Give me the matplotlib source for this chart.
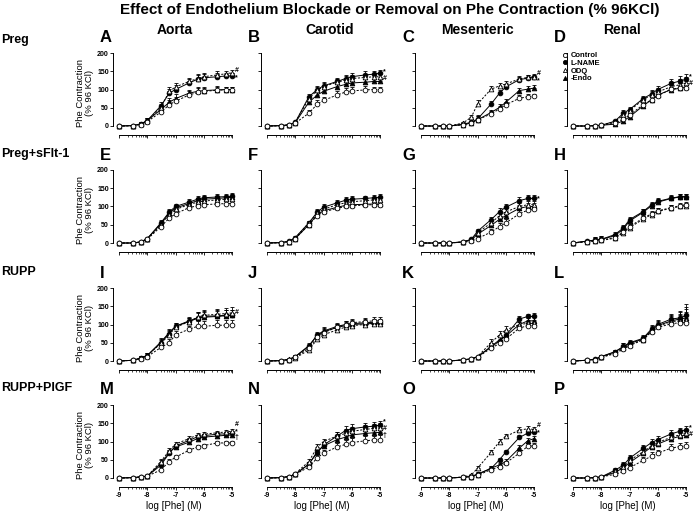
import matplotlib
matplotlib.use("Agg")
import matplotlib.pyplot as plt
from matplotlib.lines import Line2D
import numpy as np

plt.rcParams['font.family'] = ['Liberation Sans', 'DejaVu Sans']
plt.rcParams['font.weight'] = 'bold'

log_phe = [-9, -8.52, -8.22, -8, -7.52, -7.22, -7, -6.52, -6.22, -6, -5.52, -5.22, -5]
x_ticks = [-9, -8, -7, -6, -5]
y_ticks = [0, 50, 100, 150, 200]

vessels = ["Aorta", "Carotid", "Mesenteric", "Renal"]
groups = ["Preg", "Preg+sFlt-1", "RUPP", "RUPP+PIGF"]
letters = "ABCDEFGHIJKLMNOP"
series_names = ["Control", "L-NAME", "ODQ", "-Endo"]

# Preg
a_ctrl = [0, 1, 4, 12, 38, 58, 68, 85, 92, 95, 98, 99, 99]
a_lname = [0, 1, 6, 15, 55, 90, 100, 118, 128, 132, 135, 137, 137]
a_odq = [0, 1, 5, 14, 50, 95, 107, 122, 130, 135, 140, 143, 146]
a_endo = [0, 1, 5, 15, 45, 65, 75, 90, 95, 97, 99, 100, 100]
a_sem = [1, 1, 5, 8, 10, 12, 12, 10, 12, 10, 10, 8, 8]

b_ctrl = [0, 1, 3, 8, 35, 60, 70, 85, 93, 96, 99, 100, 100]
b_lname = [0, 1, 3, 10, 80, 100, 110, 122, 130, 135, 140, 142, 145]
b_odq = [0, 1, 3, 10, 75, 98, 108, 120, 126, 130, 133, 135, 135]
b_endo = [0, 1, 3, 9, 65, 85, 95, 108, 114, 118, 120, 122, 122]
b_sem = [1, 1, 2, 4, 8, 10, 10, 10, 10, 10, 10, 8, 8]

c_ctrl = [0, 0, 0, 0, 3, 8, 17, 33, 47, 58, 76, 80, 81]
c_lname = [0, 0, 0, 0, 5, 10, 19, 60, 90, 107, 127, 131, 133]
c_odq = [0, 0, 0, 0, 8, 24, 60, 101, 110, 115, 129, 133, 135]
c_endo = [0, 0, 0, 0, 4, 8, 17, 37, 51, 65, 97, 101, 104]
c_sem = [1, 1, 1, 1, 3, 5, 10, 8, 8, 8, 8, 8, 8]

d_ctrl = [0, 0, 1, 2, 8, 19, 30, 58, 72, 83, 101, 104, 104]
d_lname = [0, 0, 1, 2, 13, 35, 45, 75, 88, 100, 117, 123, 128]
d_odq = [0, 0, 1, 2, 12, 30, 42, 72, 85, 93, 108, 113, 118]
d_endo = [0, 0, 1, 2, 5, 14, 25, 55, 72, 85, 100, 103, 108]
d_sem = [1, 1, 1, 2, 4, 8, 8, 8, 10, 10, 12, 15, 15]

# Preg+sFlt-1
e_ctrl = [0, 0, 2, 10, 45, 68, 80, 97, 102, 105, 107, 108, 108]
e_lname = [0, 0, 3, 12, 55, 85, 100, 112, 120, 124, 126, 127, 128]
e_odq = [0, 0, 3, 11, 50, 78, 92, 105, 112, 115, 118, 120, 120]
e_endo = [0, 0, 3, 12, 52, 82, 96, 108, 116, 120, 122, 124, 125]
e_sem = [1, 1, 2, 3, 8, 8, 8, 8, 8, 8, 8, 8, 8]

f_ctrl = [0, 1, 4, 12, 50, 75, 85, 95, 100, 102, 104, 105, 105]
f_lname = [0, 1, 5, 15, 55, 85, 98, 110, 117, 120, 122, 124, 125]
f_odq = [0, 1, 4, 13, 55, 82, 92, 105, 110, 113, 116, 118, 118]
f_endo = [0, 1, 4, 12, 50, 78, 88, 98, 103, 105, 106, 107, 107]
f_sem = [1, 1, 2, 3, 6, 8, 8, 8, 10, 10, 8, 8, 8]

g_ctrl = [0, 0, 0, 0, 2, 5, 12, 30, 45, 55, 80, 90, 92]
g_lname = [0, 0, 0, 0, 3, 10, 32, 64, 86, 98, 116, 122, 122]
g_odq = [0, 0, 0, 0, 3, 9, 28, 55, 75, 85, 100, 105, 105]
g_endo = [0, 0, 0, 0, 3, 8, 24, 48, 65, 75, 95, 100, 100]
g_sem = [1, 1, 1, 1, 2, 3, 6, 8, 10, 10, 10, 10, 10]

h_ctrl = [0, 4, 5, 8, 15, 30, 45, 68, 80, 88, 97, 102, 105]
h_lname = [0, 5, 8, 10, 23, 41, 64, 86, 105, 114, 123, 127, 127]
h_odq = [0, 3, 5, 7, 13, 28, 42, 65, 78, 87, 95, 100, 102]
h_endo = [0, 5, 8, 10, 20, 38, 60, 84, 102, 112, 122, 126, 127]
h_sem = [1, 3, 8, 8, 6, 8, 8, 8, 8, 8, 8, 8, 8]

# RUPP
i_ctrl = [0, 2, 6, 12, 37, 50, 72, 87, 95, 95, 98, 98, 98]
i_lname = [0, 2, 8, 15, 50, 75, 95, 110, 118, 122, 124, 125, 126]
i_odq = [0, 2, 8, 15, 48, 72, 92, 108, 120, 125, 128, 130, 132]
i_endo = [0, 2, 8, 15, 52, 78, 95, 108, 117, 120, 122, 124, 125]
i_sem = [1, 1, 5, 8, 10, 10, 10, 10, 15, 15, 15, 15, 15]

j_ctrl = [0, 1, 4, 10, 35, 65, 78, 92, 100, 105, 108, 110, 110]
j_lname = [0, 1, 4, 12, 42, 70, 80, 92, 97, 100, 102, 103, 103]
j_odq = [0, 1, 3, 8, 30, 60, 72, 85, 93, 97, 100, 102, 102]
j_endo = [0, 1, 5, 12, 40, 72, 82, 95, 100, 102, 105, 106, 106]
j_sem = [1, 1, 2, 4, 6, 8, 10, 10, 10, 10, 10, 10, 10]

k_ctrl = [0, 0, 0, 0, 3, 5, 10, 35, 48, 60, 90, 97, 97]
k_lname = [0, 0, 0, 0, 3, 6, 12, 38, 55, 70, 115, 122, 122]
k_odq = [0, 0, 0, 0, 3, 6, 12, 50, 72, 85, 100, 103, 103]
k_endo = [0, 0, 0, 0, 3, 6, 11, 40, 58, 68, 100, 110, 110]
k_sem = [1, 1, 1, 1, 1, 2, 3, 10, 10, 12, 8, 8, 10]

l_ctrl = [0, 2, 4, 10, 20, 32, 42, 58, 80, 92, 102, 105, 105]
l_lname = [0, 2, 5, 12, 25, 40, 50, 62, 88, 100, 115, 118, 125]
l_odq = [0, 2, 4, 10, 22, 35, 45, 58, 82, 95, 108, 110, 112]
l_endo = [0, 2, 5, 12, 25, 38, 48, 60, 85, 97, 110, 115, 118]
l_sem = [1, 2, 2, 4, 5, 10, 8, 8, 10, 12, 15, 20, 30]

# RUPP+PlGF
m_ctrl = [0, 1, 3, 5, 22, 45, 57, 76, 85, 89, 96, 96, 96]
m_lname = [0, 1, 3, 5, 35, 68, 88, 103, 113, 116, 120, 121, 122]
m_odq = [0, 1, 3, 5, 45, 75, 93, 108, 118, 120, 124, 126, 128]
m_endo = [0, 1, 3, 5, 40, 70, 85, 98, 108, 112, 115, 117, 118]
m_sem = [1, 1, 1, 2, 8, 8, 6, 6, 5, 5, 5, 5, 5]

n_ctrl = [0, 1, 4, 10, 30, 55, 68, 85, 92, 97, 102, 104, 105]
n_lname = [0, 1, 4, 10, 38, 70, 90, 115, 130, 135, 140, 142, 145]
n_odq = [0, 1, 4, 12, 45, 85, 100, 115, 122, 128, 133, 136, 138]
n_endo = [0, 1, 4, 10, 38, 72, 88, 105, 112, 118, 122, 124, 125]
n_sem = [1, 1, 2, 3, 6, 8, 8, 10, 12, 12, 12, 12, 12]

o_ctrl = [0, 0, 0, 0, 2, 4, 7, 23, 31, 41, 68, 87, 88]
o_lname = [0, 0, 0, 0, 2, 4, 11, 26, 50, 71, 111, 123, 125]
o_odq = [0, 0, 0, 0, 3, 8, 27, 70, 100, 114, 131, 135, 133]
o_endo = [0, 0, 0, 0, 2, 4, 9, 27, 36, 45, 82, 102, 108]
o_sem = [1, 1, 1, 1, 2, 3, 5, 6, 6, 6, 8, 8, 8]

p_ctrl = [0, 0, 1, 3, 10, 18, 28, 48, 60, 68, 82, 86, 88]
p_lname = [0, 0, 1, 3, 21, 35, 54, 81, 97, 105, 121, 128, 132]
p_odq = [0, 0, 1, 3, 18, 30, 48, 72, 88, 97, 112, 118, 122]
p_endo = [0, 0, 1, 3, 15, 28, 42, 68, 85, 93, 108, 114, 118]
p_sem = [1, 1, 1, 2, 6, 10, 10, 10, 10, 10, 10, 10, 10]

panels = {
    "A": (a_ctrl, a_lname, a_odq, a_endo, a_sem),
    "B": (b_ctrl, b_lname, b_odq, b_endo, b_sem),
    "C": (c_ctrl, c_lname, c_odq, c_endo, c_sem),
    "D": (d_ctrl, d_lname, d_odq, d_endo, d_sem),
    "E": (e_ctrl, e_lname, e_odq, e_endo, e_sem),
    "F": (f_ctrl, f_lname, f_odq, f_endo, f_sem),
    "G": (g_ctrl, g_lname, g_odq, g_endo, g_sem),
    "H": (h_ctrl, h_lname, h_odq, h_endo, h_sem),
    "I": (i_ctrl, i_lname, i_odq, i_endo, i_sem),
    "J": (j_ctrl, j_lname, j_odq, j_endo, j_sem),
    "K": (k_ctrl, k_lname, k_odq, k_endo, k_sem),
    "L": (l_ctrl, l_lname, l_odq, l_endo, l_sem),
    "M": (m_ctrl, m_lname, m_odq, m_endo, m_sem),
    "N": (n_ctrl, n_lname, n_odq, n_endo, n_sem),
    "O": (o_ctrl, o_lname, o_odq, o_endo, o_sem),
    "P": (p_ctrl, p_lname, p_odq, p_endo, p_sem),
}

# significance marks next to the last dose
marks = {
    "A": [("#", 151), ("*", 133)],
    "B": [("*", 149), ("#", 131)],
    "C": [("#", 143), ("*", 125)],
    "D": [("*", 134), ("#", 116)],
    "G": [("*", 122)],
    "I": [("#", 133)],
    "M": [("#", 146), ("*", 128), ("†", 110)],
    "N": [("*", 153), ("#", 135), ("†", 117)],
    "O": [("#", 143), ("*", 125)],
    "P": [("*", 137), ("#", 119)],
}

dash = (0, (2.2, 1.6))
styles = [
    dict(marker='o', mfc='white', ls=dash),
    dict(marker='o', mfc='black', ls='-'),
    dict(marker='^', mfc='white', ls=dash),
    dict(marker='^', mfc='black', ls='-'),
]

W, H = 694, 514
fig = plt.figure(figsize=(W / 100, H / 100), dpi=100)

col_x9 = [119, 267, 421, 573]   # pixel of x=-9
row_y0 = [126, 243, 361, 478]   # pixel of y=0
ppd = 28.25                     # px per decade
ppu = 0.365                     # px per % unit
xlo, xhi = -9.3, -4.85
ylo, yhi = -27, 210

minor = [d + np.log10(k) for d in range(-9, -5) for k in range(2, 10)]
zeros = [0] * len(log_phe)


def px(x, y):
    return x / W, 1 - y / H


for idx, letter in enumerate(letters):
    r, c = divmod(idx, 4)
    left = (col_x9[c] + (xlo + 9) * ppd) / W
    width = (xhi - xlo) * ppd / W
    bottom = 1 - (row_y0[r] - ylo * ppu) / H
    height = (yhi - ylo) * ppu / H
    ax = fig.add_axes([left, bottom, width, height])
    ctrl, lname, odq, endo, sem = panels[letter]
    for vals, st in zip([endo, lname, odq, ctrl], [styles[3], styles[1], styles[2], styles[0]]):
        ax.errorbar(log_phe, vals, yerr=[zeros, sem], color='black', lw=0.7,
                    marker=st['marker'], mfc=st['mfc'], mec='black', ms=3.4, mew=0.6,
                    ls=st['ls'], elinewidth=0.6, capsize=1.4, capthick=0.6, clip_on=False)
    for sym, yv in marks.get(letter, []):
        ax.text(-4.9, yv, sym, fontsize=5, ha='left', va='center')

    ax.set_xlim(xlo, xhi)
    ax.set_ylim(ylo, yhi)
    for s in ['top', 'right']:
        ax.spines[s].set_visible(False)
    ax.spines['left'].set_position(('data', -9.2))
    ax.spines['left'].set_bounds(0, 200)
    ax.spines['bottom'].set_position(('data', -25))
    ax.spines['bottom'].set_bounds(-9, -5)
    for s in ['left', 'bottom']:
        ax.spines[s].set_linewidth(0.7)
    ax.set_xticks(x_ticks)
    ax.set_xticks(minor, minor=True)
    ax.set_yticks(y_ticks)
    ax.tick_params(axis='both', which='major', length=2.2, width=0.6, pad=1, labelsize=5)
    ax.tick_params(axis='x', which='minor', length=1.2, width=0.5)
    if c == 0:
        ax.set_ylabel("Phe Contraction\n(% 96 KCl)", fontsize=6.8, labelpad=2, linespacing=1.1)
    else:
        ax.set_yticklabels([])
    if r == 3:
        ax.set_xticklabels([str(t) for t in x_ticks])
        ax.set_xlabel("log [Phe] (M)", fontsize=7, labelpad=2)
    else:
        ax.set_xticklabels([])
    fig.text(*px(col_x9[c] - 19, row_y0[r] - 88), letter, fontsize=12,
             ha='left', va='center')

    if letter == "D":
        handles = [Line2D([], [], color='black', marker=st['marker'], mfc=st['mfc'],
                          mec='black', ms=3, mew=0.6, ls='none') for st in styles]
        ax.legend(handles, series_names, loc='upper left', bbox_to_anchor=(-0.02, 0.97),
                  frameon=False, fontsize=5.5, handlelength=0.8, handletextpad=0.3,
                  labelspacing=0.05, borderpad=0, borderaxespad=0)

# pixel-placed headings
fig.text(*px(390, 10), "Effect of Endothelium Blockade or Removal on Phe Contraction (% 96KCl)",
         fontsize=11, ha='center', va='center')
for cx, name in zip([175, 330, 477, 622], vessels):
    fig.text(*px(cx, 30), name, fontsize=10, ha='center', va='center')
for ry, name in zip([40, 154, 272, 388], groups):
    fig.text(*px(1, ry), name, fontsize=9, ha='left', va='center')

fig.savefig("out.png", dpi=100)
